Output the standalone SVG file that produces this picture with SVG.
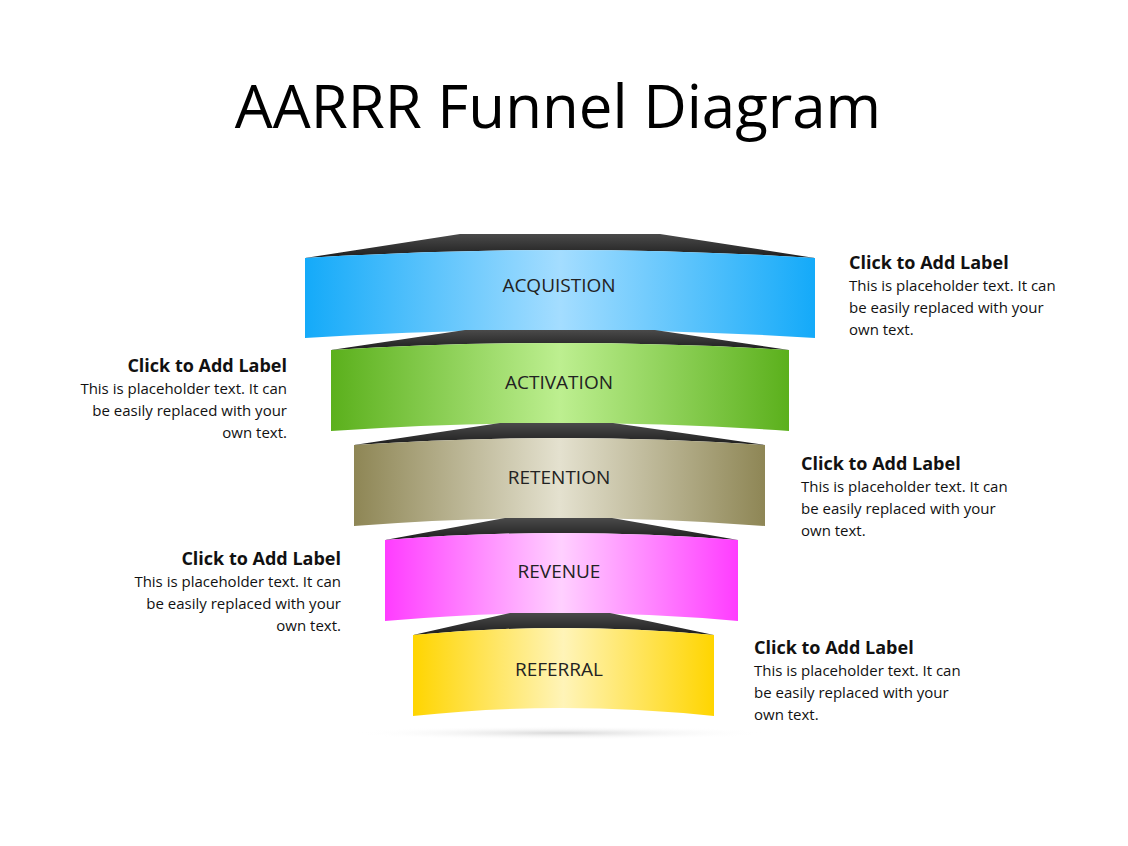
<svg xmlns="http://www.w3.org/2000/svg" width="1128" height="846" viewBox="0 0 1128 846">
<defs>
<linearGradient id="gb"><stop offset="0" stop-color="#14aaf9"/><stop offset="0.5" stop-color="#a4ddff"/><stop offset="1" stop-color="#14aaf9"/></linearGradient>
<linearGradient id="gg"><stop offset="0" stop-color="#5bb01c"/><stop offset="0.5" stop-color="#bdef90"/><stop offset="1" stop-color="#5bb01c"/></linearGradient>
<linearGradient id="gt"><stop offset="0" stop-color="#8e8655"/><stop offset="0.5" stop-color="#e4e1cf"/><stop offset="1" stop-color="#8e8655"/></linearGradient>
<linearGradient id="gp"><stop offset="0" stop-color="#ff3cff"/><stop offset="0.5" stop-color="#ffd0ff"/><stop offset="1" stop-color="#ff3cff"/></linearGradient>
<linearGradient id="gy"><stop offset="0" stop-color="#ffd500"/><stop offset="0.5" stop-color="#fff4b8"/><stop offset="1" stop-color="#ffd500"/></linearGradient>
<linearGradient id="gd" x1="0" y1="0" x2="0" y2="1"><stop offset="0" stop-color="#4a4a4a"/><stop offset="1" stop-color="#1e1e1e"/></linearGradient>
<radialGradient id="sh"><stop offset="0" stop-color="#d8d8d8"/><stop offset="1" stop-color="#fff" stop-opacity="0"/></radialGradient>
</defs>
<style>
.t{font-family:"Open Sans","Liberation Sans",sans-serif;fill:#000}
.lb{font-family:"Open Sans","Liberation Sans",sans-serif;font-size:19px;fill:#222}
.h{font-family:"Open Sans","Liberation Sans",sans-serif;font-size:18px;font-weight:bold;fill:#111}
.p{font-family:"Open Sans","Liberation Sans",sans-serif;font-size:15px;fill:#111}
.d{fill:url(#gd)}
</style>
<text class="t" x="558" y="128" font-size="60" text-anchor="middle">AARRR Funnel Diagram</text>
<ellipse cx="560" cy="733" rx="210" ry="7" fill="url(#sh)"/>
<g id="n1">
<path class="d" d="M305,258 L460,234 L660,234 L815,258 Q560,242 305,258Z"/>
<path d="M305,258 Q560,242 815,258 L815,338 Q560,322 305,338Z" fill="url(#gb)"/>
<text class="lb" x="559" y="292" text-anchor="middle">ACQUISTION</text>
</g>
<g id="n2">
<path class="d" d="M331,350 L465,330 L655,330 L789,350 Q560,336 331,350Z"/>
<path d="M331,350 Q560,336 789,350 L789,431 Q560,415 331,431Z" fill="url(#gg)"/>
<text class="lb" x="559" y="389" text-anchor="middle">ACTIVATION</text>
</g>
<g id="n3">
<path class="d" d="M354,445 L500,423 L613,423 L765,445 Q560,431 354,445Z"/>
<path d="M354,445 Q560,431 765,445 L765,526 Q560,510 354,526Z" fill="url(#gt)"/>
<text class="lb" x="559" y="484" text-anchor="middle">RETENTION</text>
</g>
<g id="n4">
<path class="d" d="M385,540 L505,518 L612,518 L738,540 Q560,526 385,540Z"/>
<path d="M385,540 Q560,526 738,540 L738,621 Q560,605 385,621Z" fill="url(#gp)"/>
<text class="lb" x="559" y="578" text-anchor="middle">REVENUE</text>
</g>
<g id="n5">
<path class="d" d="M413,635 L510,613 L610,613 L714,635 Q560,621 413,635Z"/>
<path d="M413,635 Q560,621 714,635 L714,716 Q560,700 413,716Z" fill="url(#gy)"/>
<text class="lb" x="559" y="676" text-anchor="middle">REFERRAL</text>
</g>
<g id="connectors"/>
<g id="l1"><text class="h" x="849" y="269">Click to Add Label</text><text class="p" x="849" y="291">This is placeholder  text. It can</text><text class="p" x="849" y="313">be easily replaced with your</text><text class="p" x="849" y="335">own text.</text></g>
<g id="l2" text-anchor="end"><text class="h" x="287" y="372">Click to Add Label</text><text class="p" x="287" y="394">This is placeholder  text. It can</text><text class="p" x="287" y="416">be easily replaced with your</text><text class="p" x="287" y="438">own text.</text></g>
<g id="l3"><text class="h" x="801" y="470">Click to Add Label</text><text class="p" x="801" y="492">This is placeholder  text. It can</text><text class="p" x="801" y="514">be easily replaced with your</text><text class="p" x="801" y="536">own text.</text></g>
<g id="l4" text-anchor="end"><text class="h" x="341" y="565">Click to Add Label</text><text class="p" x="341" y="587">This is placeholder  text. It can</text><text class="p" x="341" y="609">be easily replaced with your</text><text class="p" x="341" y="631">own text.</text></g>
<g id="l5"><text class="h" x="754" y="654">Click to Add Label</text><text class="p" x="754" y="676">This is placeholder  text. It can</text><text class="p" x="754" y="698">be easily replaced with your</text><text class="p" x="754" y="720">own text.</text></g>
</svg>
